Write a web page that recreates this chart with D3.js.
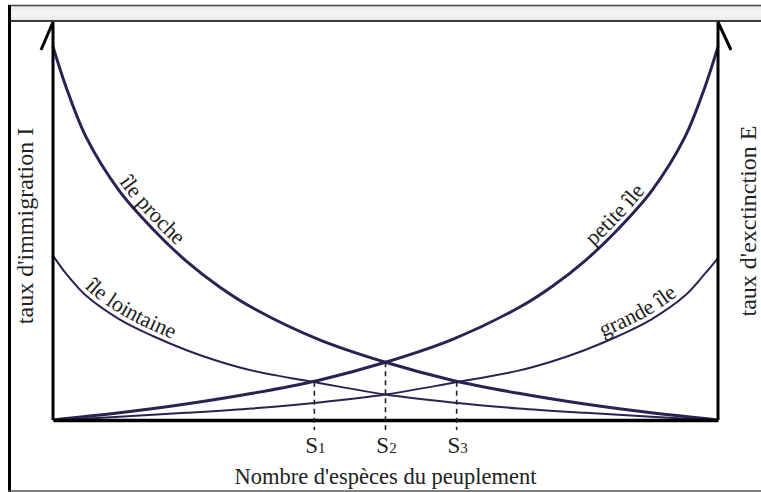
<!DOCTYPE html>
<html><head><meta charset="utf-8">
<script src="https://cdn.jsdelivr.net/npm/d3@7"></script>
<style>html,body{margin:0;padding:0;background:#fff;} svg{display:block;}</style>
</head><body>
<svg id="c" width="761" height="492"></svg>
<script>
// ---- data (species number 0..100, rates in arbitrary units 0..100) ----
const immX = [0,2,5,10,15,20,25,30,40,50,60,70,80,90,100];
const ileProche = [93.8,83.5,71,57.5,48,40,33.5,28.2,20.2,14.5,10.0,6.7,4.0,1.8,0];
const ileLointaine = [41.3,36.7,31.2,25.3,21.1,17.6,14.7,12.4,9.3,6.4,4.4,2.9,1.8,0.8,0];
const extX = [0,10,20,30,40,50,60,70,75,80,85,90,95,98,100];
const petiteIle = [0,1.8,4.0,6.7,10.0,14.5,20.2,28.2,33.5,40,48,57.5,71,83.5,93.8];
const grandeIle = [0,0.8,1.8,2.9,4.4,6.4,9.3,12.4,14.7,17.6,21.1,25.3,31.2,36.7,40.7];
const equilibriumIdx = ["1","2","3"];
const equilibriumX = [39.3,50,60.7];
const equilibriumY = [9.6,14.5,9.6];
const curveNames = ["île proche","île lointaine","petite île","grande île"];
const labelStartX = [9.3,4.2,81.8,83.0];
const xTitle = "Nombre d'espèces du peuplement";
const yTitleLeft = "taux d'immigration I";
const yTitleRight = "taux d'exctinction E";

const svg = d3.select("#c");
const curveColor = "#2c2152";
const serif = "'Liberation Serif','Times New Roman',serif";

// ---- frame ----
const grad = svg.append("defs").append("linearGradient").attr("id","band").attr("x1",0).attr("x2",0).attr("y1",0).attr("y2",1);
grad.append("stop").attr("offset","0%").attr("stop-color","#e4e4e4");
grad.append("stop").attr("offset","50%").attr("stop-color","#f6f6f6");
grad.append("stop").attr("offset","100%").attr("stop-color","#e8e8e8");
svg.append("rect").attr("x",9).attr("y",5).attr("width",752).attr("height",16).attr("fill","url(#band)");
svg.append("line").attr("x1",8).attr("x2",761).attr("y1",5.5).attr("y2",5.5).attr("stroke","#444").attr("stroke-width",1.5);
svg.append("line").attr("x1",8).attr("x2",761).attr("y1",21).attr("y2",21).attr("stroke","#000").attr("stroke-width",1.5);
svg.append("line").attr("x1",9.5).attr("x2",9.5).attr("y1",5).attr("y2",492).attr("stroke","#000").attr("stroke-width",3);
svg.append("line").attr("x1",8).attr("x2",761).attr("y1",491).attr("y2",491).attr("stroke","#555").attr("stroke-width",1.5);

// ---- scales ----
const x = d3.scaleLinear().domain([0,100]).range([53,718]);
const y = d3.scaleLinear().domain([0,100]).range([420,22]);

// ---- curves ----
const line = d3.line().x(d=>x(d[0])).y(d=>y(d[1])).curve(d3.curveCatmullRom.alpha(0.5));
const series = [
  {id:"proche", xs:immX, ys:ileProche, w:3},
  {id:"lointaine", xs:immX, ys:ileLointaine, w:2},
  {id:"petite", xs:extX, ys:petiteIle, w:3},
  {id:"grande", xs:extX, ys:grandeIle, w:2}
];
series.forEach(s=>{
  s.node = svg.append("path").attr("id","p-"+s.id)
    .attr("d", line(s.xs.map((v,i)=>[v,s.ys[i]])))
    .attr("fill","none").attr("stroke",curveColor).attr("stroke-width",s.w).node();
});

// ---- axes ----
const axisTop = y(100);
svg.append("path")
  .attr("d",`M${x(0)-12},${axisTop+28}L${x(0)},${axisTop}L${x(0)},${y(0)}`)
  .attr("fill","none").attr("stroke","#000").attr("stroke-width",3).attr("stroke-linejoin","miter");
svg.append("path")
  .attr("d",`M${x(100)+13},${axisTop+28}L${x(100)},${axisTop}L${x(100)},${y(0)}`)
  .attr("fill","none").attr("stroke","#000").attr("stroke-width",3).attr("stroke-linejoin","miter");
svg.append("g").attr("transform",`translate(0,${y(0)})`)
  .call(d3.axisBottom(x).tickValues([]).tickSizeOuter(0))
  .call(g=>g.select(".domain").attr("stroke","#000").attr("stroke-width",3.5));

// ---- equilibrium markers ----
equilibriumX.forEach((sx,i)=>{
  svg.append("line").attr("x1",x(sx)).attr("x2",x(sx))
    .attr("y1",y(equilibriumY[i])).attr("y2",y(0)+10)
    .attr("stroke","#222").attr("stroke-width",1.6).attr("stroke-dasharray","5,4");
  const t = svg.append("text").attr("x",x(sx)+1).attr("y",y(0)+33)
    .attr("text-anchor","middle").attr("font-family",serif).attr("fill","#222");
  t.append("tspan").attr("font-size",23).text("S");
  t.append("tspan").attr("font-size",15).text(equilibriumIdx[i]);
});

// ---- curve labels along paths ----
function lengthAtX(node, px){
  let lo=0, hi=node.getTotalLength();
  for(let k=0;k<40;k++){
    const mid=(lo+hi)/2;
    if(node.getPointAtLength(mid).x < px) lo=mid; else hi=mid;
  }
  return (lo+hi)/2;
}
series.forEach((s,i)=>{
  svg.append("text").attr("font-family",serif).attr("font-size",22).attr("fill","#222").attr("dy",-5)
    .append("textPath").attr("href","#p-"+s.id)
    .attr("startOffset", lengthAtX(s.node, x(labelStartX[i])))
    .text(curveNames[i]);
});

// ---- titles ----
svg.append("text").attr("x",(x(0)+x(100))/2).attr("y",484).attr("text-anchor","middle")
  .attr("font-family",serif).attr("font-size",22.5).attr("fill","#222").text(xTitle);
svg.append("text").attr("transform",`translate(33,${226}) rotate(-90)`).attr("text-anchor","middle")
  .attr("font-family",serif).attr("font-size",24).attr("fill","#222").text(yTitleLeft);
svg.append("text").attr("transform",`translate(756,${221}) rotate(-90)`).attr("text-anchor","middle")
  .attr("font-family",serif).attr("font-size",24).attr("fill","#222").text(yTitleRight);
</script>
</body></html>
